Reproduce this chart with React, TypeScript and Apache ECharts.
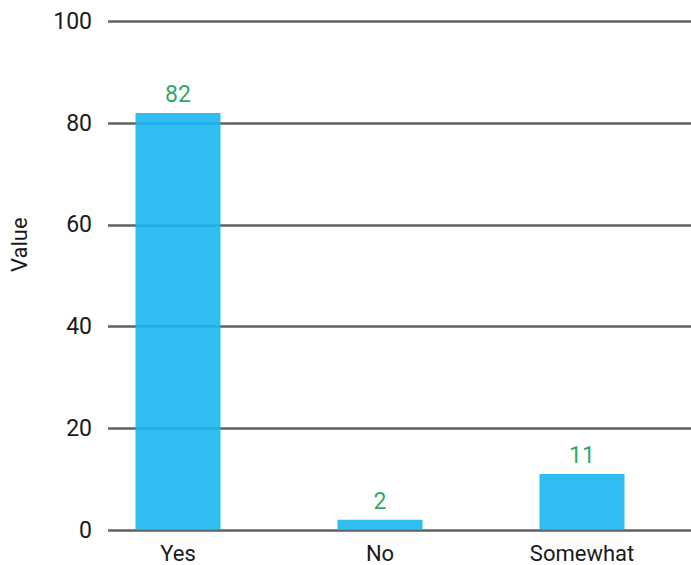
import React, { useEffect, useRef } from "react";
import * as echarts from "echarts";

const categories = ["Yes", "No", "Somewhat"];
const values = [82, 2, 11];
const yTicks = [0, 20, 40, 60, 80, 100];

const FONT = "Roboto, 'Noto Sans', sans-serif";

export default function App() {
  const ref = useRef<HTMLDivElement>(null);
  useEffect(() => {
    if (!ref.current) return;
    const chart = echarts.init(ref.current, null, { renderer: "svg" });
    const yMin = yTicks[0];
    const yMax = yTicks[yTicks.length - 1];
    const yInterval = yTicks[1] - yTicks[0];
    chart.setOption({
      animation: false,
      backgroundColor: "#ffffff",
      textStyle: { fontFamily: FONT },
      grid: [
        { left: 106, right: 0, top: 21.5, bottom: 35 },
        { left: 77, right: 8, top: 21.5, bottom: 35 },
      ],
      xAxis: [
        { gridIndex: 0, type: "value", show: false, min: 0, max: 1 },
        {
          gridIndex: 1,
          type: "category",
          data: categories,
          axisLine: { show: false },
          axisTick: { show: false },
          axisLabel: { color: "#1a1a1a", fontSize: 22, margin: 12, fontFamily: FONT },
        },
      ],
      yAxis: [
        {
          gridIndex: 0,
          type: "value",
          min: yMin,
          max: yMax,
          interval: yInterval,
          axisLine: { show: false },
          axisTick: { show: false },
          splitLine: { show: true, lineStyle: { color: "#606060", width: 2.5 } },
          axisLabel: { color: "#1a1a1a", fontSize: 23, margin: 16, fontFamily: FONT },
          name: "Value",
          nameLocation: "middle",
          nameGap: 78,
          nameRotate: 90,
          nameTextStyle: { color: "#1a1a1a", fontSize: 22, fontFamily: FONT, padding: [0, 0, 0, 62] },
        },
        {
          gridIndex: 1,
          type: "value",
          min: yMin,
          max: yMax,
          interval: yInterval,
          show: false,
        },
      ],
      series: [
        {
          type: "bar",
          xAxisIndex: 1,
          yAxisIndex: 1,
          data: values,
          barWidth: 85,
          itemStyle: { color: "rgb(26,182,241)", opacity: 0.9 },
          label: {
            show: true,
            position: "top",
            distance: 7,
            color: "#0f9d58",
            fontSize: 23,
            fontFamily: FONT,
          },
        },
      ],
    });
    return () => chart.dispose();
  }, []);
  return <div ref={ref} style={{ width: 691, height: 565, position: "absolute", left: 0, top: 0 }} />;
}
